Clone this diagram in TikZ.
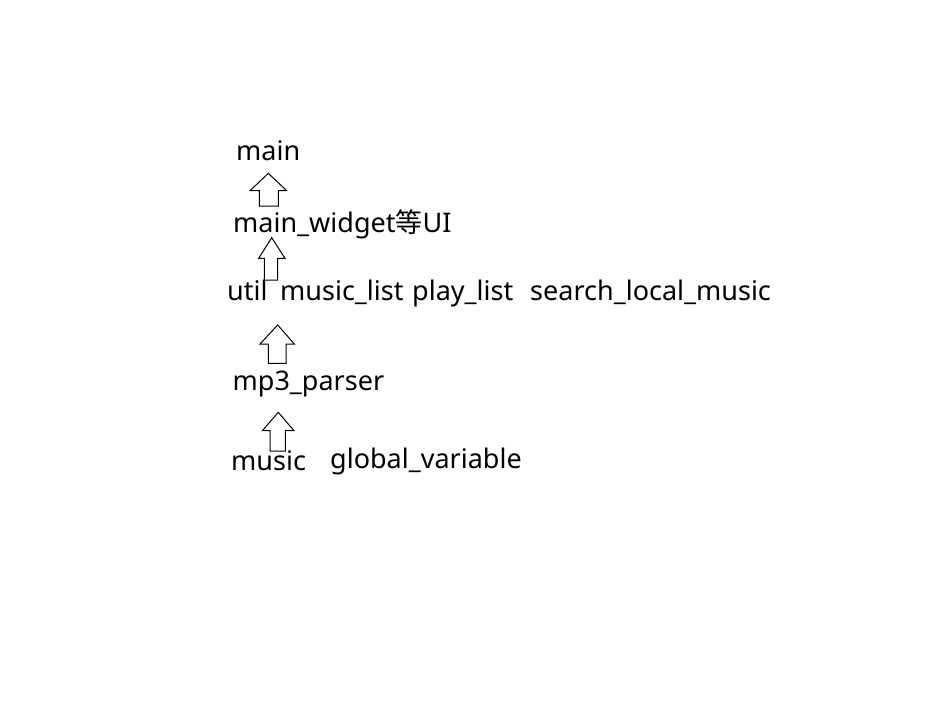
\documentclass[tikz,border=0pt]{standalone}
\usepackage{fontspec}
\setmainfont{Noto Sans}
\newfontfamily\cjk{Noto Sans CJK SC}
\usepackage{tikz}
\tikzstyle{module} = [anchor=base west, inner sep=0pt,
  font=\fontsize{27}{32}\selectfont]
\tikzstyle{uparrow} = [draw=black, line width=1pt, fill=white]
\begin{document}
\begin{tikzpicture}[x=1pt, y=-1pt]
  \useasboundingbox (0,0) rectangle (934,706);
  % top level
  \node[module] (main) at (236, 160.7) {main};
  \node[module] (widget) at (233, 232.3) {main\_widget{\cjk 等}UI};
  % middle level
  \node[module] (util) at (227, 300) {util};
  \node[module] (musiclist) at (280, 300) {music\_list};
  \node[module] (playlist) at (412, 300) {play\_list};
  \node[module] (search) at (530, 300) {search\_local\_music};
  \node[module] (parser) at (232.5, 390) {mp3\_parser};
  % bottom level
  \node[module] (music) at (231, 470) {music};
  \node[module] (global) at (330, 468.7) {global\_variable};
  % widget -> main
  \draw[uparrow] (259.3,206) -- (259.3,190.7) -- (250,190.7) -- (268.3,173.3)
    -- (286.7,190.7) -- (278.3,190.7) -- (278.3,206) -- cycle;
  % util -> widget
  \draw[uparrow] (264.3,280) -- (264.3,258.3) -- (258.7,258.3) -- (271.7,237.7)
    -- (285,258.3) -- (277.7,258.3) -- (277.7,280) -- cycle;
  % parser -> util
  \draw[uparrow] (268.3,363.3) -- (268.3,344) -- (260,344) -- (277.7,325)
    -- (294.3,344) -- (286,344) -- (286,363.3) -- cycle;
  % music -> parser
  \draw[uparrow] (270,451) -- (270,430.7) -- (262.3,430.7) -- (278.3,412.3)
    -- (294,430.7) -- (285.3,430.7) -- (285.3,451) -- cycle;
\end{tikzpicture}
\end{document}
